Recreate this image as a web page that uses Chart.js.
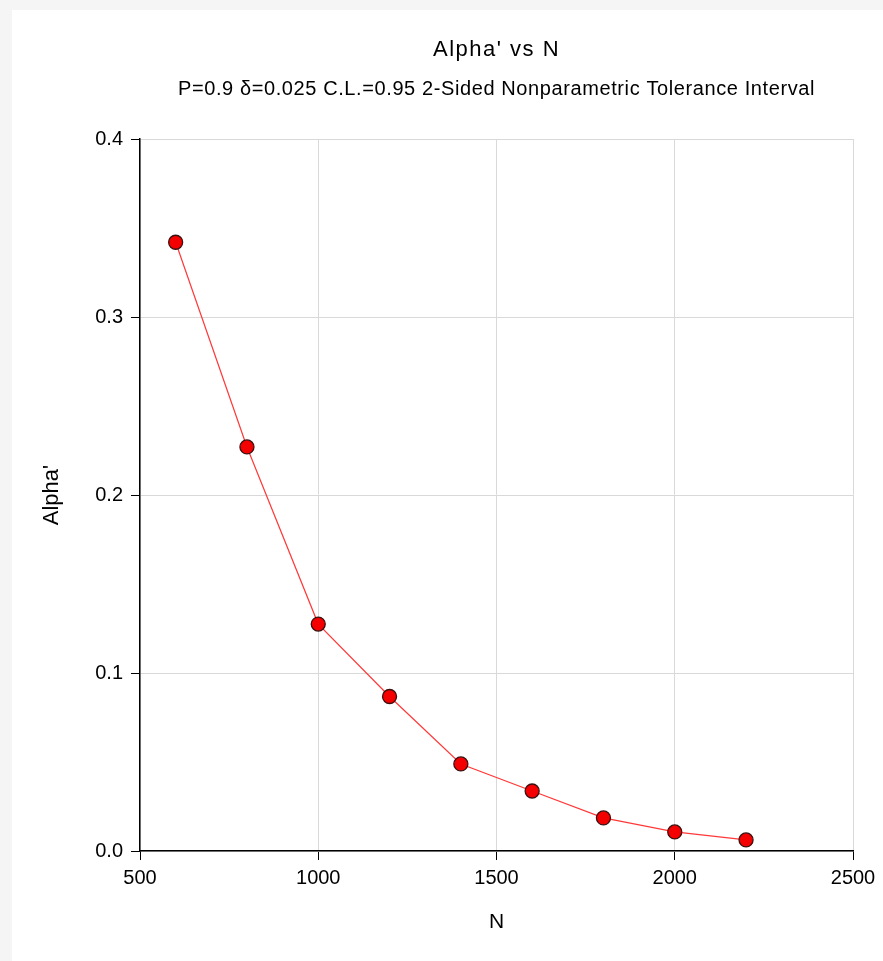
<!DOCTYPE html>
<html>
<head>
<meta charset="utf-8">
<script src="https://cdn.jsdelivr.net/npm/chart.js@4/dist/chart.umd.min.js"></script>
<style>
    html, body { margin: 0; padding: 0; background: #f5f5f5; }
    #panel { position: absolute; left: 12px; top: 10px; width: 871px; height: 951px; background: #ffffff; }
    canvas { display: block; }
</style>
</head>
<body>
<div id="panel"><canvas id="chart" width="871" height="951"></canvas></div>
<script>
const sampleSizes = [600, 800, 1000, 1200, 1400, 1600, 1800, 2000, 2200];
const alphaValues = [0.342, 0.227, 0.1275, 0.0868, 0.0489, 0.0337, 0.0186, 0.0107, 0.0062];
const xTicks = [500, 1000, 1500, 2000, 2500];
const yTicks = [0.0, 0.1, 0.2, 0.3, 0.4];

const chartTitle = "Alpha' vs N";
const chartSubtitle = 'P=0.9 δ=0.025 C.L.=0.95 2-Sided Nonparametric Tolerance Interval';

const fontFamily = '"Liberation Sans", Arial, sans-serif';
const gridColor = '#d9d9d9';

const points = sampleSizes.map((n, i) => ({ x: n, y: alphaValues[i] }));

// titles are centred over the plot area, like the original
const plotTitles = {
    id: 'plotTitles',
    afterDraw(chart) {
        const { ctx, chartArea } = chart;
        const cx = (chartArea.left + chartArea.right) / 2;
        ctx.save();
        ctx.fillStyle = '#000';
        ctx.textAlign = 'center';
        ctx.textBaseline = 'middle';
        ctx.font = '22px ' + fontFamily;
        ctx.letterSpacing = '1.5px';
        ctx.fillText(chartTitle, cx, 40);
        ctx.font = '20px ' + fontFamily;
        ctx.letterSpacing = '0.6px';
        ctx.fillText(chartSubtitle, cx, 79);
        ctx.restore();
    }
};

new Chart(document.getElementById('chart'), {
    type: 'scatter',
    data: {
        datasets: [{
            data: points,
            showLine: true,
            borderColor: '#ff3838',
            borderWidth: 1.2,
            pointBackgroundColor: '#f40000',
            pointBorderColor: '#3a1010',
            pointBorderWidth: 1.3,
            pointRadius: 7,
            clip: false
        }]
    },
    options: {
        responsive: false,
        animation: false,
        layout: { padding: { top: 129, right: 30, bottom: 0, left: 0 } },
        plugins: {
            legend: { display: false },
            tooltip: { enabled: false },
            title: { display: false }
        },
        scales: {
            x: {
                type: 'linear',
                min: 500,
                max: 2500,
                afterBuildTicks: scale => { scale.ticks = xTicks.map(v => ({ value: v })); },
                afterFit: scale => { scale.height = 110; },
                grid: { color: gridColor, tickColor: '#000', tickLength: 9, lineWidth: 1 },
                border: { color: '#000', width: 1.5 },
                ticks: {
                    color: '#000',
                    padding: 6,
                    font: { family: fontFamily, size: 20 },
                    callback: v => String(v)
                },
                title: {
                    display: true,
                    text: 'N',
                    color: '#000',
                    font: { family: fontFamily, size: 21 },
                    padding: { top: 0, bottom: 26 }
                }
            },
            y: {
                type: 'linear',
                min: 0,
                max: 0.4,
                afterBuildTicks: scale => { scale.ticks = yTicks.map(v => ({ value: v })); },
                afterFit: scale => { scale.width = 128; },
                grid: { color: gridColor, tickColor: '#000', tickLength: 9, lineWidth: 1 },
                border: { color: '#000', width: 1.5 },
                ticks: {
                    color: '#000',
                    padding: 8,
                    font: { family: fontFamily, size: 20 },
                    callback: v => v.toFixed(1)
                },
                title: {
                    display: true,
                    text: "Alpha'",
                    color: '#000',
                    font: { family: fontFamily, size: 22 },
                    padding: { top: 27, bottom: 0 }
                }
            }
        }
    },
    plugins: [plotTitles]
});
</script>
</body>
</html>
